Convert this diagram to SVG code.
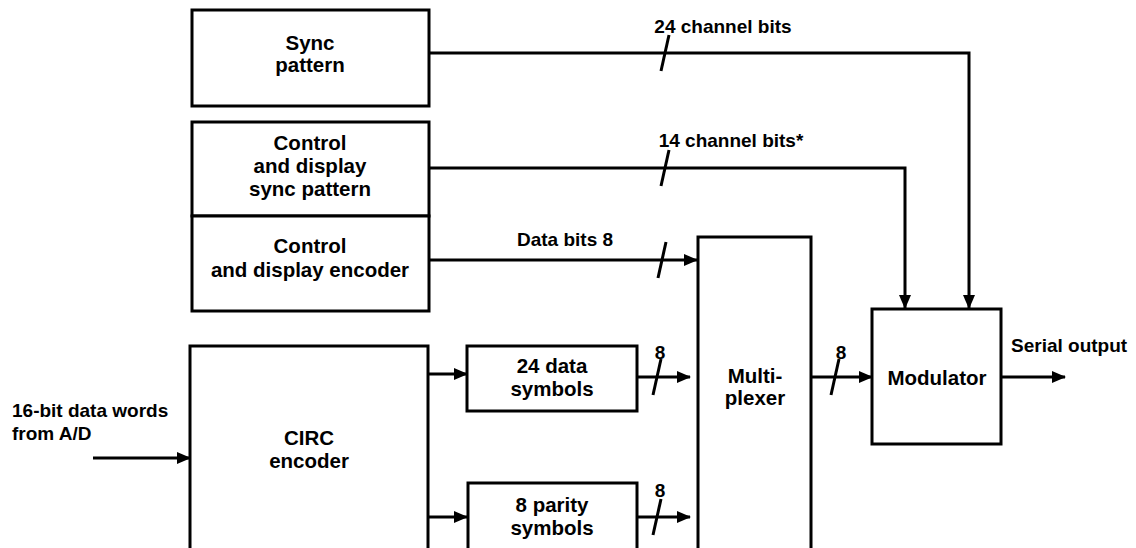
<svg xmlns="http://www.w3.org/2000/svg" width="1136" height="548" viewBox="0 0 1136 548">
<defs>
<marker id="ah" viewBox="0 0 14 12" refX="13" refY="6" markerWidth="14" markerHeight="12" markerUnits="userSpaceOnUse" orient="auto">
<path d="M0,0 L14,6 L0,12 Z" fill="#000"/>
</marker>
<style>
.box{fill:#fff;stroke:#000;stroke-width:3}
.arr{fill:none;stroke:#000;stroke-width:3;marker-end:url(#ah)}
.tk{fill:none;stroke:#000;stroke-width:3}
text{font-family:"Liberation Sans",Arial,sans-serif;font-weight:bold;font-size:19px;fill:#000}
.b{font-size:20.5px}
.c{text-anchor:middle}
</style>
</defs>
<rect width="1136" height="548" fill="#fff"/>
<g id="connectors">
<path class="arr" d="M429,53 H969 V308"/>
<path class="arr" d="M429,168 H905 V308"/>
<path class="arr" d="M429,260 H697"/>
<path class="arr" d="M428,374 H467"/>
<path class="arr" d="M428,517 H467"/>
<path class="arr" d="M637,377 H690"/>
<path class="arr" d="M637,517 H690"/>
<path class="arr" d="M811,377 H872"/>
<path class="arr" d="M1001,377 H1065"/>
<path class="arr" d="M93,458 H190"/>
<path class="tk" d="M661,71 L669,35"/>
<path class="tk" d="M661,186 L669,150"/>
<path class="tk" d="M658,278 L666,242"/>
<path class="tk" d="M653,395 L661,359"/>
<path class="tk" d="M653,535 L661,499"/>
<path class="tk" d="M831,395 L839,359"/>
<text x="723" y="33" class="c">24 channel bits</text>
<text x="731" y="147" class="c">14 channel bits*</text>
<text x="565" y="246" class="c">Data bits 8</text>
<text x="660" y="359" class="c">8</text>
<text x="660" y="497" class="c">8</text>
<text x="841" y="359" class="c">8</text>
<text x="1011" y="352">Serial output</text>
<text x="12" y="417">16-bit data words</text>
<text x="12" y="440">from A/D</text>
</g>
<g id="sync">
<rect class="box" x="192" y="10" width="237" height="96"/>
<text x="310" y="50" class="c b">Sync</text>
<text x="310" y="72" class="c b">pattern</text>
</g>
<g id="cd-sync">
<rect class="box" x="192" y="122" width="237" height="94"/>
<text x="310" y="150" class="c b">Control</text>
<text x="310" y="173" class="c b">and display</text>
<text x="310" y="196" class="c b">sync pattern</text>
</g>
<g id="cd-encoder">
<rect class="box" x="192" y="216" width="237" height="95"/>
<text x="310" y="253" class="c b">Control</text>
<text x="310" y="277" class="c b">and display encoder</text>
</g>
<g id="circ">
<rect class="box" x="190" y="346" width="238" height="215"/>
<text x="309" y="445" class="c b">CIRC</text>
<text x="309" y="468" class="c b">encoder</text>
</g>
<g id="data-symbols">
<rect class="box" x="467" y="346" width="170" height="65"/>
<text x="552" y="373" class="c b">24 data</text>
<text x="552" y="396" class="c b">symbols</text>
</g>
<g id="parity-symbols">
<rect class="box" x="468" y="483" width="169" height="80"/>
<text x="552" y="512" class="c b">8 parity</text>
<text x="552" y="535" class="c b">symbols</text>
</g>
<g id="multiplexer">
<rect class="box" x="698" y="237" width="113" height="326"/>
<text x="755" y="383" class="c b">Multi-</text>
<text x="755" y="405" class="c b">plexer</text>
</g>
<g id="modulator">
<rect class="box" x="872" y="309" width="129" height="135"/>
<text x="937" y="385" class="c b">Modulator</text>
</g>
</svg>
